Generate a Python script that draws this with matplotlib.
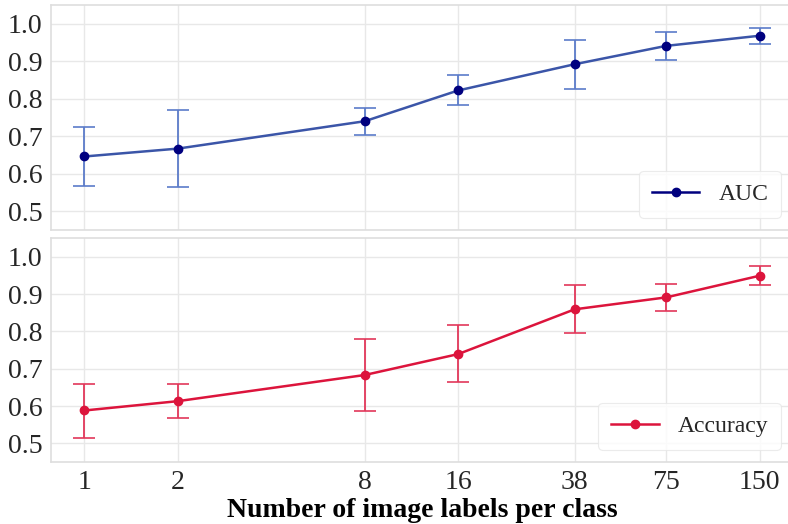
import numpy as np
import matplotlib
matplotlib.use("Agg")
import matplotlib.pyplot as plt

# labels per class
n_labels = [1, 2, 8, 16, 38, 75, 150]
tick_labels = ["1", "2", "8", "16", "38", "75", "150"]

auc_mean = [0.646, 0.667, 0.740, 0.822, 0.892, 0.941, 0.968]
auc_lo = [0.567, 0.564, 0.704, 0.783, 0.827, 0.903, 0.947]
auc_hi = [0.725, 0.770, 0.775, 0.863, 0.957, 0.979, 0.989]

acc_mean = [0.588, 0.613, 0.683, 0.739, 0.859, 0.891, 0.949]
acc_lo = [0.514, 0.568, 0.587, 0.664, 0.796, 0.854, 0.923]
acc_hi = [0.660, 0.659, 0.779, 0.816, 0.923, 0.928, 0.976]

plt.rcParams['font.family'] = ['Liberation Serif', 'DejaVu Serif']
plt.rcParams['text.color'] = '#262626'
plt.rcParams['xtick.color'] = '#262626'
plt.rcParams['ytick.color'] = '#262626'

fig = plt.figure(figsize=(7.88, 5.24), dpi=100)
ax1 = fig.add_axes([0.0647, 0.5611, 0.9416, 0.4294])
ax2 = fig.add_axes([0.0647, 0.1183, 0.9416, 0.4275], sharex=ax1)


def panel(ax, mean, lo, hi, line_c, mark_c, bar_c, cap_c, label):
    mean = np.array(mean)
    err = [mean - np.array(lo), np.array(hi) - mean]
    _, caps, bars = ax.errorbar(n_labels, mean, yerr=err, fmt='none', ecolor=bar_c,
                                elinewidth=1.3, capsize=8, capthick=1.2, zorder=2)
    for c in caps:
        c.set_color(cap_c)
    ax.plot(n_labels, mean, '-', color=line_c, lw=1.8, zorder=3)
    ax.plot(n_labels, mean, 'o', color=mark_c, ms=6, zorder=4)
    # legend proxy
    ax.plot([], [], '-o', color=mark_c, lw=1.8, ms=6, label=label)
    ax.set_ylim(0.45, 1.05)
    ax.set_yticks([0.5, 0.6, 0.7, 0.8, 0.9, 1.0])
    ax.set_yticklabels(["0.5", "0.6", "0.7", "0.8", "0.9", "1.0"])
    ax.grid(True, color='#e8e8e8', lw=1)
    ax.set_axisbelow(True)
    for s in ax.spines.values():
        s.set_color('#dedede')
        s.set_linewidth(1.2)
    ax.tick_params(length=0, labelsize=20, pad=6)
    leg = ax.legend(loc='lower right', fontsize=17, frameon=True, fancybox=True,
                    handlelength=2.0, borderpad=0.55)
    leg.get_frame().set_edgecolor('#e6e6e6')
    leg.get_frame().set_linewidth(0.8)


panel(ax1, auc_mean, auc_lo, auc_hi, '#3b55a8', '#00007f', '#5b7bc9', '#a4b6e0', 'AUC')
panel(ax2, acc_mean, acc_lo, acc_hi, '#dc143c', '#dc143c', '#e2375a', '#f09aac', 'Accuracy')

ax2.set_xscale('log', base=2)
ax2.set_xlim(0.78, 192)
ax2.set_xticks(n_labels)
ax2.set_xticklabels(tick_labels)
ax2.minorticks_off()
ax1.minorticks_off()
plt.setp(ax1.get_xticklabels(), visible=False)
ax2.set_xlabel("Number of image labels per class", fontsize=20, fontweight='bold', labelpad=2)

fig.savefig("out.png", dpi=100)
